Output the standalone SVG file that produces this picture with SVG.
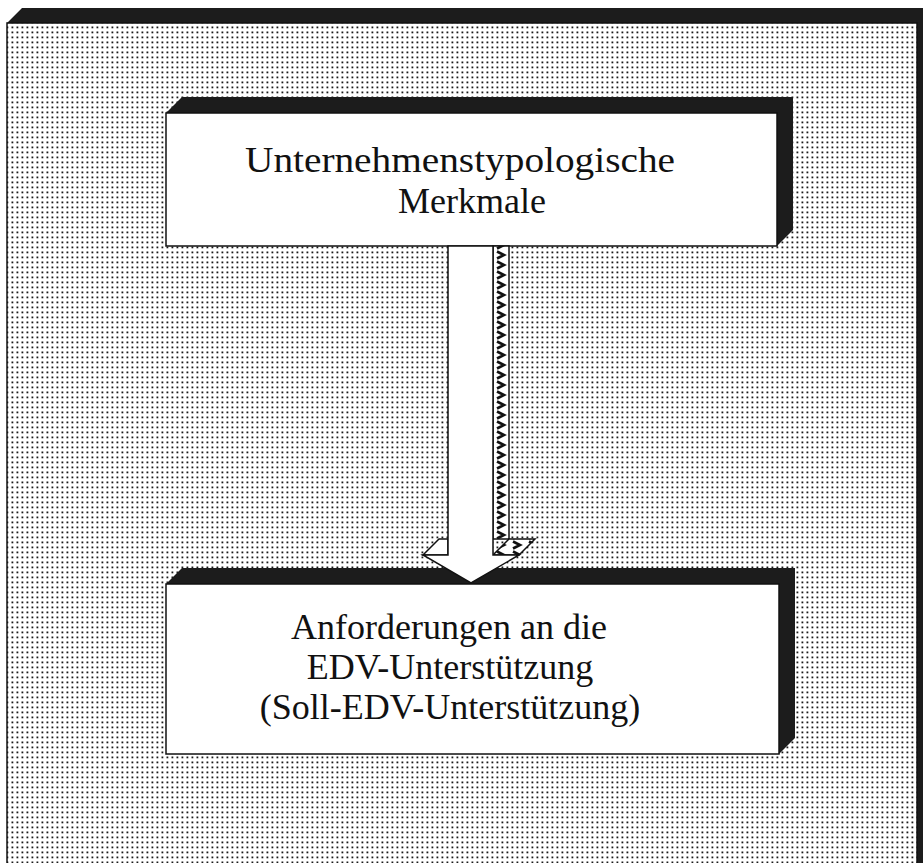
<svg xmlns="http://www.w3.org/2000/svg" width="923" height="863" viewBox="0 0 923 863">
  <defs>
    <pattern id="dots" x="0" y="0" width="5" height="5" patternUnits="userSpaceOnUse">
      <rect width="5" height="5" fill="#ffffff"/>
      <rect x="1.5" y="1.5" width="1.8" height="1.8" fill="#1a1a1a"/>
    </pattern>
    <pattern id="zigzag" x="493" y="0" width="16" height="10" patternUnits="userSpaceOnUse">
      <rect width="16" height="10" fill="#ffffff"/>
      <path d="M4 1.5 L11 5 L4 8.5" fill="none" stroke="#111" stroke-width="2.6"/>
    </pattern>
    <style>
      .frame { fill: url(#dots); stroke: #111; stroke-width: 1.5; }
      .side { fill: #1c1c1c; }
      .face { fill: #ffffff; stroke: #111; stroke-width: 1.5; }
      .hatch { fill: url(#zigzag); stroke: #111; stroke-width: 1.5; }
      .arrow { fill: #ffffff; stroke: #111; stroke-width: 1.5; stroke-linejoin: miter; }
      .label { font-family: "Liberation Serif", "Times New Roman", serif; font-size: 36px; fill: #111; text-anchor: middle; }
    </style>
  </defs>

  <!-- background panel with its extruded top and right sides -->
  <g id="panel">
    <polygon class="side" points="7,23 22,8 935,8 935,863 917,863 917,23"/>
    <rect class="frame" x="7" y="23" width="910" height="845"/>
  </g>

  <!-- upper box -->
  <g id="node-merkmale">
    <polygon class="side" points="166,113 182,97 793,97 793,230 777,246 777,113"/>
    <rect class="face" x="166" y="113" width="611" height="133"/>
    <text class="label" x="460" y="172" textLength="430" lengthAdjust="spacingAndGlyphs">Unternehmenstypologische</text>
    <text class="label" x="472" y="213">Merkmale</text>
  </g>

  <!-- lower box -->
  <g id="node-anforderungen">
    <polygon class="side" points="166,584 182,568 795,568 795,738 779,754 779,584"/>
    <rect class="face" x="166" y="584" width="613" height="170"/>
    <text class="label" x="449" y="639">Anforderungen an die</text>
    <text class="label" x="450" y="679">EDV-Unterstützung</text>
    <text class="label" x="450" y="719">(Soll-EDV-Unterstützung)</text>
  </g>

  <!-- block arrow between the boxes -->
  <g id="connectors">
    <!-- shaft side face -->
    <rect class="hatch" x="493" y="246" width="16" height="293"/>
    <!-- head top ledges -->
    <polygon class="hatch" points="493,555 519,555 535,539 509,539"/>
    <polygon class="arrow" points="423,555 448,555 448,539 439,539"/>
    <!-- front face -->
    <polygon class="arrow" points="448,246 493,246 493,555 519,555 471,583 423,555 448,555"/>
  </g>
</svg>
